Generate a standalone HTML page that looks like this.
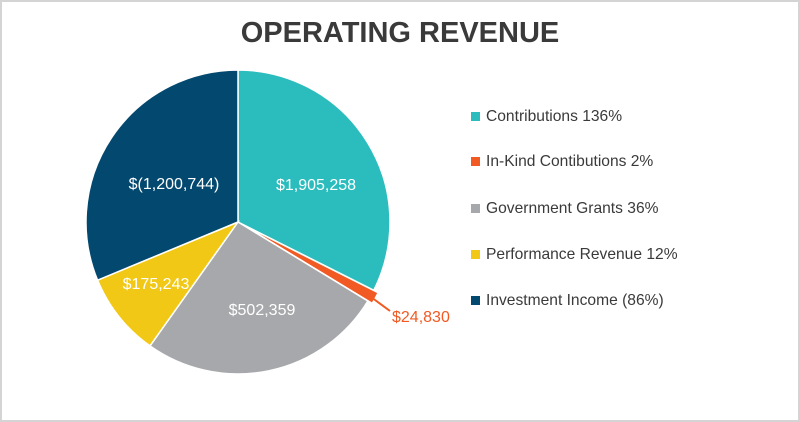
<!DOCTYPE html>
<html><head><style>
body{margin:0;background:#fff}
#c{position:relative;width:796px;height:418px;border:2px solid #d4d4d4;font-family:"Liberation Sans",sans-serif;overflow:hidden}
</style></head><body>
<div id="c">
<svg width="796" height="418" viewBox="2 2 796 418" id="s">
<text x="400" y="42" text-anchor="middle" font-size="29" font-weight="bold" fill="#3a3a3a" font-family="Liberation Sans, sans-serif">OPERATING REVENUE</text>
<g id="pie"></g>
<line x1="371" y1="297" x2="390" y2="311" stroke="#f15a22" stroke-width="2"/>
<g font-family="Liberation Sans, sans-serif" font-size="16" fill="#fff">
<text x="316" y="190" text-anchor="middle">$1,905,258</text>
<text x="174" y="189" text-anchor="middle">$(1,200,744)</text>
<text x="262" y="315" text-anchor="middle">$502,359</text>
<text x="156" y="289" text-anchor="middle">$175,243</text>
<text x="392" y="322" fill="#f15a22">$24,830</text>
</g>
<g font-family="Liberation Sans, sans-serif" font-size="15.6" fill="#3a3a3a">
<rect x="471" y="112" width="9" height="9" fill="#2bbdbd"/><text x="486" y="121">Contributions 136%</text>
<rect x="471" y="157" width="9" height="9" fill="#f15a22"/><text x="486" y="166">In-Kind Contibutions 2%</text>
<rect x="471" y="204" width="9" height="9" fill="#a7a8ab"/><text x="486" y="213">Government Grants 36%</text>
<rect x="471" y="250" width="9" height="9" fill="#f2c816"/><text x="486" y="259">Performance Revenue 12%</text>
<rect x="471" y="296" width="9" height="9" fill="#03486f"/><text x="486" y="305">Investment Income (86%)</text>
</g>
</svg>
</div>
<script>
var cx=238,cy=222,r=152;
var sl=[[0,116.7,'#2bbdbd',0],[116.7,121.3,'#f15a22',5],[121.3,215.4,'#a7a8ab',0],[215.4,247.5,'#f2c816',0],[247.5,360,'#03486f',0]];
var g=document.getElementById('pie'),h='';
function pt(a,rr,ox,oy){var t=a*Math.PI/180;return [(cx+ox+rr*Math.sin(t)).toFixed(2),(cy+oy-rr*Math.cos(t)).toFixed(2)];}
sl.forEach(function(s){var m=(s[0]+s[1])/2*Math.PI/180,ox=s[3]*Math.sin(m),oy=-s[3]*Math.cos(m);
var p=pt(s[0],r,ox,oy),q=pt(s[1],r,ox,oy),l=(s[1]-s[0])>180?1:0;
h+='<path d="M'+(cx+ox)+' '+(cy+oy)+' L'+p[0]+' '+p[1]+' A'+r+' '+r+' 0 '+l+' 1 '+q[0]+' '+q[1]+' Z" fill="'+s[2]+'" stroke="#fff" stroke-width="1.5"/>';});
g.innerHTML=h;
</script>
</body></html>
